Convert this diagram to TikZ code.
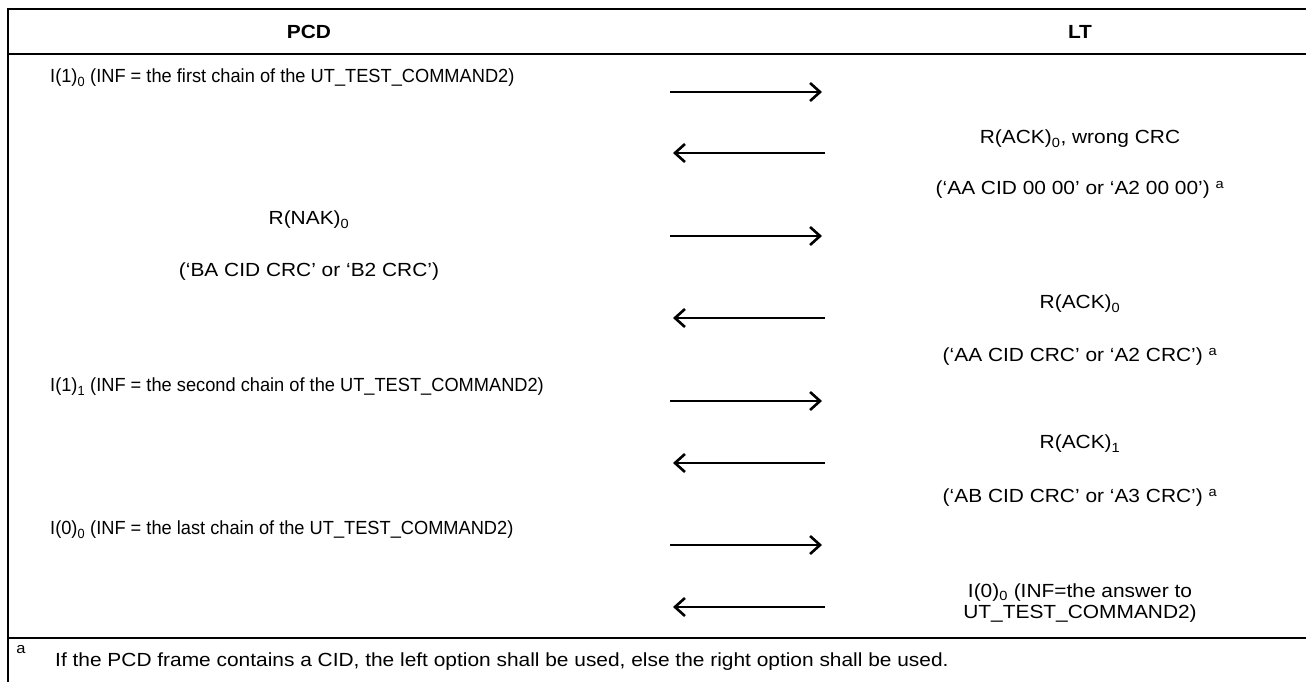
\documentclass[tikz,border=0pt]{standalone}
\usepackage{fontspec}
\setmainfont{Liberation Sans}[FakeStretch=1.1]
\newfontfamily\rowfont{Liberation Sans}[FakeStretch=0.96]
\usetikzlibrary{arrows.meta}
\begin{document}
\begin{tikzpicture}[x=1pt,y=-1pt,
  rule/.style={line width=2pt,line cap=rect},
  msg/.style={line width=2.6pt,-{Straight Barb[length=10pt,width=18pt,line width=2.6pt]}},
  txt/.style={inner sep=0pt,font=\fontsize{19}{21}\selectfont},
  hdr/.style={txt,font=\fontsize{19}{21}\selectfont\bfseries},
  ltxt/.style={txt,anchor=west,font=\fontsize{19}{21}\selectfont\rowfont},
  two/.style={txt,align=center,font=\fontsize{19}{21}\selectfont},
]
\useasboundingbox (0,0) rectangle (1306,682);
% frame
\coordinate (tl) at (8,9);
\coordinate (tr) at (1306,9);
\coordinate (hl) at (8,54);
\coordinate (hr) at (1306,54);
\coordinate (fl) at (8,638);
\coordinate (fr) at (1306,638);
\coordinate (bl) at (8,682);
\draw[rule] (tl) -- (tr);
\draw[rule] (hl) -- (hr);
\draw[rule] (fl) -- (fr);
\draw[rule] (tl) -- (bl);
% headers
\node[hdr] (pcd) at (309,32) {PCD};
\node[hdr] (lt) at (1080,32) {LT};
% row texts
\node[ltxt] (t1) at (50,78) {I(1)\textsubscript{0} (INF = the first chain of the UT\_TEST\_COMMAND2)};
\node[txt] (t2a) at (1080,139) {R(ACK)\textsubscript{0}, wrong CRC};
\node[txt] (t2b) at (1080,190) {(‘AA CID 00 00’ or ‘A2 00 00’) \textsuperscript{a}};
\node[txt] (t3a) at (309,220) {R(NAK)\textsubscript{0}};
\node[txt] (t3b) at (309,272) {(‘BA CID CRC’ or ‘B2 CRC’)};
\node[txt] (t4a) at (1080,304) {R(ACK)\textsubscript{0}};
\node[txt] (t4b) at (1080,357) {(‘AA CID CRC’ or ‘A2 CRC’) \textsuperscript{a}};
\node[ltxt] (t5) at (50,387) {I(1)\textsubscript{1} (INF = the second chain of the UT\_TEST\_COMMAND2)};
\node[txt] (t6a) at (1080,444) {R(ACK)\textsubscript{1}};
\node[txt] (t6b) at (1080,498) {(‘AB CID CRC’ or ‘A3 CRC’) \textsuperscript{a}};
\node[ltxt] (t7) at (50,530) {I(0)\textsubscript{0} (INF = the last chain of the UT\_TEST\_COMMAND2)};
\node[two] (t8) at (1080,603) {I(0)\textsubscript{0} (INF=the answer to\\UT\_TEST\_COMMAND2)};
% footnote
\node[txt,font=\fontsize{15}{17}\selectfont] (fa) at (21,650) {a};
\node[txt,anchor=west] (fn) at (55,662) {If the PCD frame contains a CID, the left option shall be used, else the right option shall be used.};
% arrows
\foreach \i/\y in {1/92,3/236,5/401,7/545}{
  \coordinate (r\i s) at (670,\y);
  \coordinate (r\i e) at (822,\y);
  \draw[msg] (r\i s) -- (r\i e);
}
\foreach \i/\y in {2/153,4/318,6/463,8/607}{
  \coordinate (l\i s) at (825,\y);
  \coordinate (l\i e) at (673,\y);
  \draw[msg] (l\i s) -- (l\i e);
}
\end{tikzpicture}
\end{document}
